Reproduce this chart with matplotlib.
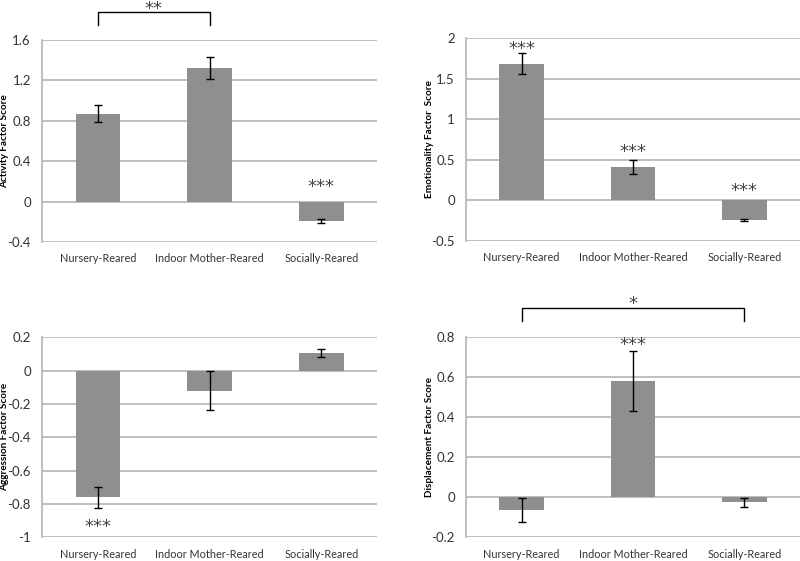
import matplotlib
matplotlib.use("Agg")
import matplotlib.pyplot as plt
import matplotlib.transforms as mtransforms
import numpy as np

plt.rcParams['font.family'] = ['Lato', 'DejaVu Sans']

groups = ["Nursery-Reared", "Indoor Mother-Reared", "Socially-Reared"]

activity = [0.87, 1.32, -0.19]
activity_err = [0.085, 0.11, 0.02]
emotionality = [1.68, 0.41, -0.24]
emotionality_err = [0.13, 0.085, 0.01]
aggression = [-0.76, -0.12, 0.105]
aggression_err = [0.065, 0.115, 0.022]
displacement = [-0.065, 0.58, -0.025]
displacement_err = [0.06, 0.15, 0.022]

bar_color = "#8f8f8f"
grid_color = "#b4b4b4"
text_color = "#333333"


def draw_panel(ax, vals, errs, ylabel, ylim, yticks, ytick_labels):
    x = np.arange(len(groups))
    ax.bar(x, vals, width=0.4, color=bar_color, zorder=2)
    ax.errorbar(x, vals, yerr=errs, fmt="none", ecolor="black",
                elinewidth=1, capsize=3, capthick=1, zorder=3)
    ax.set_xlim(-0.5, 2.5)
    ax.set_ylim(*ylim)
    ax.set_yticks(yticks)
    ax.set_yticklabels(ytick_labels)
    ax.yaxis.grid(True, color=grid_color, linewidth=1.2, zorder=0)
    ax.set_axisbelow(True)
    for s in ["top", "right", "bottom"]:
        ax.spines[s].set_visible(False)
    ax.spines["left"].set_color(grid_color)
    ax.spines["left"].set_linewidth(1.2)
    ax.set_xticks(x)
    ax.set_xticklabels(groups)
    ax.tick_params(axis="y", length=0, labelsize=9.5, colors=text_color, pad=8)
    ax.tick_params(axis="x", length=0, labelsize=7.8, colors=text_color, pad=8)
    ax.set_ylabel(ylabel, fontsize=7.2, fontweight="bold", color="black")
    ax.yaxis.set_label_coords(-0.097, 0.5)


def stars(ax, xpos, ypos, s):
    ax.text(xpos, ypos, s, ha="center", va="center", fontsize=13,
            color="#444444", fontfamily="DejaVu Sans", zorder=4)


def bracket(ax, x0, x1, ytop, ybot, label, label_y):
    tr = mtransforms.blended_transform_factory(ax.transData, ax.transAxes)
    ax.plot([x0, x0, x1, x1], [ybot, ytop, ytop, ybot], color="black",
            linewidth=1, transform=tr, clip_on=False)
    ax.text((x0 + x1) / 2, label_y, label, ha="center", va="center",
            fontsize=13, color="#444444", fontfamily="DejaVu Sans",
            transform=tr, clip_on=False)


fig = plt.figure(figsize=(8, 5.61), dpi=100)

ax1 = fig.add_axes([0.0525, 0.5686, 0.419, 0.360])
ax2 = fig.add_axes([0.5825, 0.5704, 0.4175, 0.362])
ax3 = fig.add_axes([0.0525, 0.0420, 0.419, 0.357])
ax4 = fig.add_axes([0.5825, 0.0420, 0.4175, 0.357])

draw_panel(ax1, activity, activity_err, "Activity Factor Score", (-0.4, 1.6),
           [-0.4, 0, 0.4, 0.8, 1.2, 1.6], ["-0.4", "0", "0.4", "0.8", "1.2", "1.6"])
draw_panel(ax2, emotionality, emotionality_err, "Emotionality Factor  Score", (-0.5, 2),
           [-0.5, 0, 0.5, 1, 1.5, 2], ["-0.5", "0", "0.5", "1", "1.5", "2"])
draw_panel(ax3, aggression, aggression_err, "Aggression Factor Score", (-1, 0.2),
           [-1, -0.8, -0.6, -0.4, -0.2, 0, 0.2], ["-1", "-0.8", "-0.6", "-0.4", "-0.2", "0", "0.2"])
draw_panel(ax4, displacement, displacement_err, "Displacement Factor Score", (-0.2, 0.8),
           [-0.2, 0, 0.2, 0.4, 0.6, 0.8], ["-0.2", "0", "0.2", "0.4", "0.6", "0.8"])

# significance marks
stars(ax1, 2, 0.14, "***")
stars(ax2, 0, 1.86, "***")
stars(ax2, 1, 0.59, "***")
stars(ax2, 2, 0.12, "***")
stars(ax3, 0, -0.94, "***")
stars(ax4, 1, 0.76, "***")

bracket(ax1, 0, 1, 1.139, 1.074, "**", 1.155)
bracket(ax4, 0, 2, 1.145, 1.08, "*", 1.165)

fig.savefig("out.png", dpi=100)
